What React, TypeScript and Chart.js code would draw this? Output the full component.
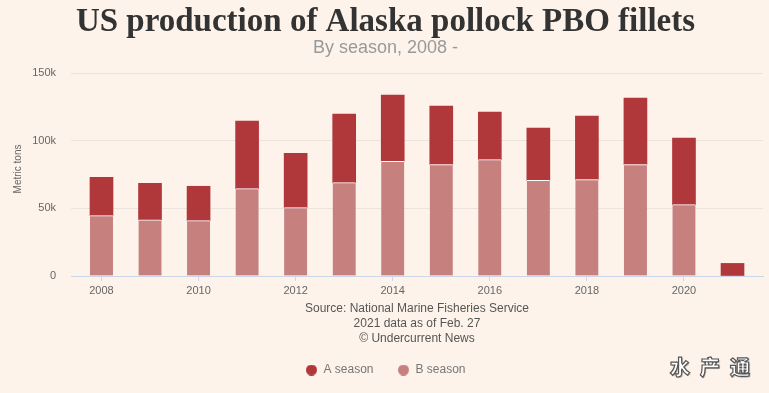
import { useEffect, useRef } from 'react';
import { Chart, registerables } from 'chart.js';

Chart.register(...registerables);

const titleText = 'US production of Alaska pollock PBO fillets';
const subtitleText = 'By season, 2008 -';
const yAxisTitle = 'Metric tons';
const sourceLines = [
  'Source: National Marine Fisheries Service',
  '2021 data as of Feb. 27',
  '© Undercurrent News',
];
const watermark = '水产通';

const years = [2008, 2009, 2010, 2011, 2012, 2013, 2014, 2015, 2016, 2017, 2018, 2019, 2020, 2021];
const aSeason = [28400, 26900, 25400, 49800, 40200, 50600, 48900, 43200, 35100, 38600, 46800, 49100, 49200, 9300];
const bSeason = [44600, 41600, 40900, 64600, 50500, 69000, 84800, 82400, 86000, 70700, 71300, 82400, 52700, null];
const yTickValues = [0, 50000, 100000, 150000];
const yTickLabels = ['0', '50k', '100k', '150k'];

const BG = '#fdf3ea';
const A_COLOR = '#b0383b';
const B_COLOR = '#c6817f';
const SANS = "'Liberation Sans', Arial, sans-serif";

function makeDot(color: string): HTMLCanvasElement {
  const c = document.createElement('canvas');
  c.width = 11;
  c.height = 11;
  const ctx = c.getContext('2d');
  if (ctx) {
    ctx.fillStyle = color;
    ctx.beginPath();
    ctx.arc(5.5, 5.5, 5.5, 0, Math.PI * 2);
    ctx.fill();
  }
  return c;
}

export default function App() {
  const ref = useRef<HTMLCanvasElement>(null);

  useEffect(() => {
    const canvas = ref.current;
    if (!canvas) return;
    const dots: Record<string, HTMLCanvasElement> = {
      'A season': makeDot(A_COLOR),
      'B season': makeDot(B_COLOR),
    };
    const chart = new Chart(canvas, {
      type: 'bar',
      data: {
        datasets: [
          {
            label: 'B season',
            data: years.map((x, i) => ({ x, y: bSeason[i] })) as any,
            backgroundColor: B_COLOR,
            borderColor: '#ffffff',
            borderWidth: { top: 1, left: 0, right: 0, bottom: 0 },
            borderSkipped: false,
            barThickness: 23,
          },
          {
            label: 'A season',
            data: years.map((x, i) => ({ x, y: aSeason[i] })) as any,
            backgroundColor: A_COLOR,
            borderWidth: 0,
            barThickness: 23,
          },
        ],
      },
      options: {
        animation: false,
        responsive: false,
        maintainAspectRatio: false,
        layout: { padding: { left: 8, right: 6, top: 0, bottom: 7 } },
        plugins: {
          title: {
            display: true,
            text: titleText,
            color: '#333333',
            font: { family: "'Liberation Serif', 'Times New Roman', serif", size: 33, weight: 'bold', lineHeight: 0.94 },
            padding: { top: 6.5, bottom: 0 },
          },
          subtitle: {
            display: true,
            text: subtitleText,
            color: '#999999',
            font: { family: SANS, size: 18, lineHeight: 1.2 },
            padding: { top: 0, bottom: 13.9 },
          },
          legend: {
            position: 'bottom',
            reverse: true,
            labels: {
              usePointStyle: true,
              boxWidth: 16,
              boxHeight: 11,
              padding: 24,
              color: '#777777',
              font: { family: SANS, size: 12 },
              generateLabels: (ch: any) => {
                const items = (Chart.defaults.plugins.legend.labels.generateLabels as any)(ch);
                items.forEach((it: any) => {
                  it.pointStyle = dots[it.text];
                });
                return items;
              },
            },
          },
          tooltip: { enabled: false },
        },
        scales: {
          x: {
            type: 'linear',
            stacked: true,
            min: 2007.372,
            max: 2021.628,
            offset: false,
            grid: { offset: false, drawOnChartArea: false, drawTicks: true, tickLength: 5, color: '#ccd6eb' },
            border: { color: '#ccd6eb' },
            ticks: {
              stepSize: 2,
              includeBounds: false,
              autoSkip: false,
              maxRotation: 0,
              padding: 3,
              color: '#666666',
              font: { family: SANS, size: 11 },
              callback: (v: any) => String(v),
            },
            title: {
              display: true,
              text: sourceLines,
              color: '#555555',
              font: { family: SANS, size: 12, lineHeight: 1.25 },
              padding: { top: 1.3, bottom: -6.5 },
            },
          },
          y: {
            stacked: true,
            min: 0,
            max: 150000,
            afterBuildTicks: (scale: any) => {
              scale.ticks = yTickValues.map((value) => ({ value }));
            },
            afterFit: (scale: any) => {
              scale.width = 63;
            },
            grid: { drawTicks: false, color: '#ebe3dc' },
            border: { display: false },
            ticks: {
              padding: 15,
              color: '#666666',
              font: { family: SANS, size: 11 },
              callback: (v: any) => {
                const idx = yTickValues.indexOf(Number(v));
                return idx >= 0 ? yTickLabels[idx] : '';
              },
            },
            title: {
              display: true,
              text: '    ' + yAxisTitle,
              color: '#666666',
              font: { family: SANS, size: 10, lineHeight: 1.2 },
              padding: { top: 4, bottom: 8 },
            },
          },
        },
      },
    });
    return () => chart.destroy();
  }, []);

  return (
    <div style={{ position: 'fixed', left: 0, top: 0, width: 769, height: 393, background: BG, overflow: 'hidden' }}>
      <canvas ref={ref} width={769} height={393} style={{ display: 'block', width: 769, height: 393 }} />
      <span
        style={{
          position: 'absolute',
          left: 670,
          top: 355,
          fontFamily: "'Noto Sans CJK SC', sans-serif",
          fontWeight: 900,
          fontSize: 20,
          letterSpacing: 10,
          color: '#ffffff',
          WebkitTextStroke: '1.2px #555555',
          textShadow: '1px 1px 1px rgba(0,0,0,0.35)',
          lineHeight: '24px',
          whiteSpace: 'nowrap',
        }}
      >
        {watermark}
      </span>
    </div>
  );
}
